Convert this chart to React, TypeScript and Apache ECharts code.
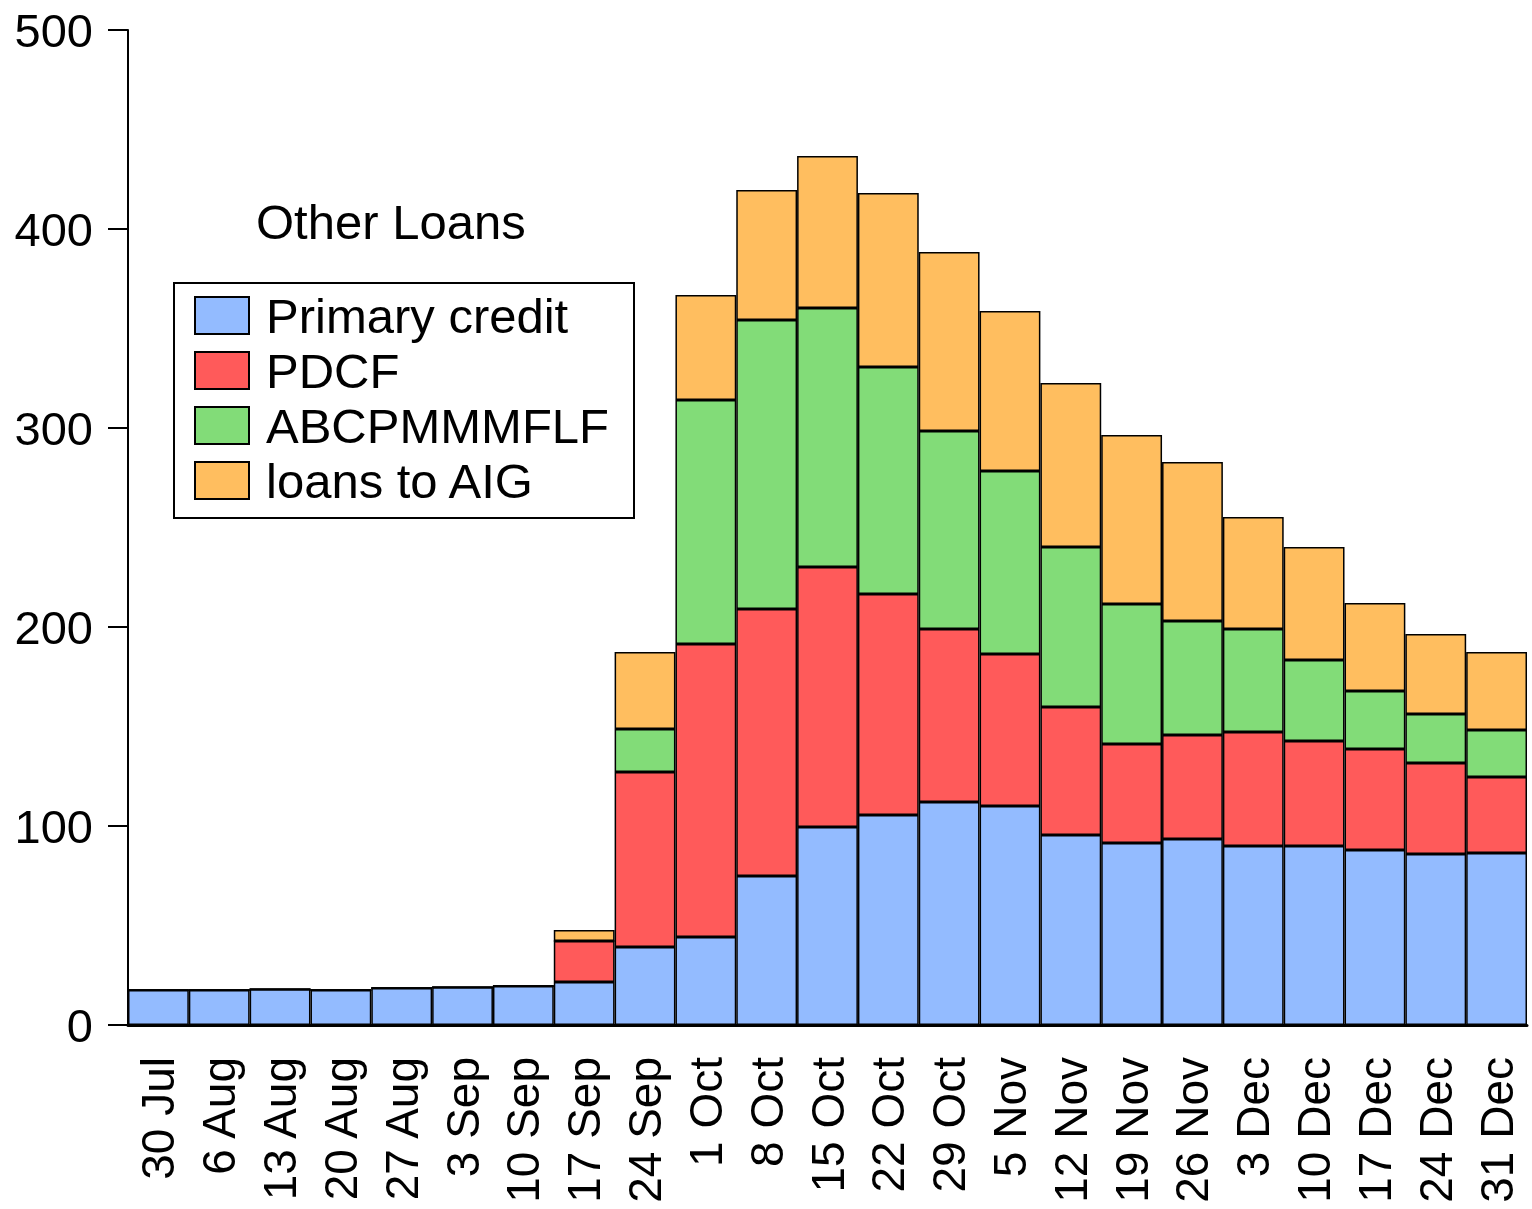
import React, { useEffect, useRef } from "react";
import * as echarts from "echarts";

const categories = ["30 Jul","6 Aug","13 Aug","20 Aug","27 Aug","3 Sep","10 Sep","17 Sep","24 Sep","1 Oct","8 Oct","15 Oct","22 Oct","29 Oct","5 Nov","12 Nov","19 Nov","26 Nov","3 Dec","10 Dec","17 Dec","24 Dec","31 Dec"];
const primaryCredit = [17.6,17.6,18,17.6,18.6,19,19.6,21.6,39.2,44.2,74.9,99.5,105.5,112.1,110.1,95.5,91.5,93.5,90.0,90.0,87.9,85.9,86.4];
const pdcf = [0,0,0,0,0,0,0,20.6,87.9,147.3,134.1,130.7,111.1,86.9,76.3,64.3,49.7,52.2,57.2,52.7,50.8,45.8,38.2];
const abcpmmmflf = [0,0,0,0,0,0,0,0,21.6,122.6,145.3,130.1,114.1,99.5,92.0,80.4,70.4,57.3,51.8,40.7,29.1,24.6,23.6];
const loansToAIG = [0,0,0,0,0,0,0,5.5,38.7,52.7,65.3,76.4,87.4,89.9,80.4,82.4,84.9,79.9,56.3,56.8,44.3,40.2,39.2];
const yTicks = [0, 100, 200, 300, 400, 500];

const FONT = "'Liberation Sans', Arial, sans-serif";

export default function App() {
  const ref = useRef<HTMLDivElement>(null);
  useEffect(() => {
    if (!ref.current) return;
    document.body.style.margin = "0";
    document.body.style.overflow = "hidden";
    const chart = echarts.init(ref.current, null, { renderer: "svg" });
    const mk = (name: string, data: number[], color: string) => ({
      name,
      type: "bar",
      stack: "total",
      data,
      barCategoryGap: "0%",
      itemStyle: { color, borderColor: "#000", borderWidth: 1.5 },
    });
    chart.setOption({
      animation: false,
      textStyle: { fontFamily: FONT },
      grid: { left: 128, right: 5, top: 30, bottom: 184, containLabel: false },
      xAxis: {
        type: "category",
        data: categories,
        axisLine: { lineStyle: { color: "#000", width: 3 } },
        axisTick: { alignWithLabel: true, length: 20, lineStyle: { color: "#000", width: 2 } },
        axisLabel: { rotate: 90, fontSize: 46, color: "#000", margin: 32, fontFamily: FONT, interval: 0 },
      },
      yAxis: {
        type: "value",
        min: yTicks[0],
        max: yTicks[yTicks.length - 1],
        interval: 100,
        splitLine: { show: false },
        axisLine: { show: true, lineStyle: { color: "#000", width: 2 } },
        axisTick: { show: true, length: 20, lineStyle: { color: "#000", width: 2 } },
        axisLabel: { fontSize: 47, color: "#000", margin: 35, fontFamily: FONT },
      },
      legend: {
        orient: "vertical",
        left: 194,
        top: 291,
        padding: 0,
        itemWidth: 54,
        itemHeight: 37,
        itemGap: 6,
        icon: "rect",
        textStyle: { fontSize: 49, color: "#000", fontFamily: FONT, padding: [0, 0, 0, 12] },
        data: ["Primary credit", "PDCF", "ABCPMMMFLF", "loans to AIG"],
        selectedMode: false,
      },
      graphic: [
        {
          type: "rect",
          shape: { x: 174, y: 283, width: 460, height: 235 },
          style: { fill: "none", stroke: "#000", lineWidth: 2 },
          z: 100,
        },
        {
          type: "text",
          left: 256,
          top: 197,
          style: { text: "Other Loans", font: `49px ${FONT}`, fill: "#000" },
        },
      ],
      series: [
        mk("Primary credit", primaryCredit, "#93BBFF"),
        mk("PDCF", pdcf, "#FF5A5A"),
        mk("ABCPMMMFLF", abcpmmmflf, "#82DC78"),
        mk("loans to AIG", loansToAIG, "#FFBE5F"),
      ],
    });
    return () => chart.dispose();
  }, []);
  return <div ref={ref} style={{ position: "fixed", left: 0, top: 0, width: 1532, height: 1209 }} />;
}
